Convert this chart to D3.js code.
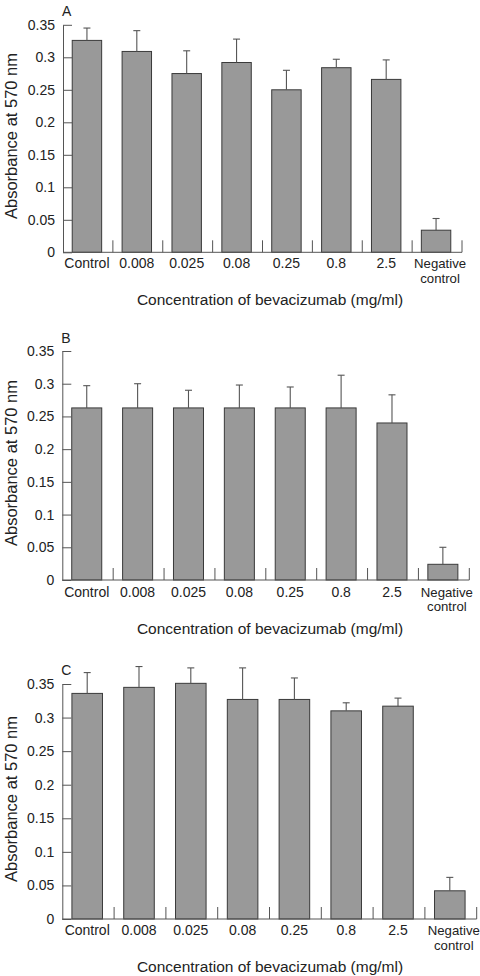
<!DOCTYPE html>
<html><head><meta charset="utf-8">
<script src="https://cdn.jsdelivr.net/npm/d3@7"></script>
<style>body{margin:0;background:#fff}svg{display:block}text{font-family:"Liberation Sans",Arial,sans-serif;fill:#222}</style>
</head><body>
<script>
const categories = ["Control","0.008","0.025","0.08","0.25","0.8","2.5","Negative control"];
const yTickValues = [0,0.05,0.1,0.15,0.2,0.25,0.3,0.35];
const yTickLabels = ["0","0.05","0.1","0.15","0.2","0.25","0.3","0.35"];
const panelLetters = ["A","B","C"];
const meansA = [0.326,0.309,0.275,0.292,0.250,0.284,0.266,0.034];
const sdA    = [0.019,0.032,0.035,0.036,0.030,0.013,0.030,0.018];
const meansB = [0.263,0.263,0.263,0.263,0.263,0.263,0.240,0.024];
const sdB    = [0.034,0.037,0.027,0.035,0.032,0.050,0.043,0.026];
const meansC = [0.336,0.345,0.351,0.327,0.327,0.310,0.317,0.042];
const sdC    = [0.031,0.031,0.023,0.047,0.032,0.012,0.012,0.020];
const yLabel = "Absorbance at 570 nm";
const xLabel = "Concentration of bevacizumab (mg/ml)";

const W = 480, H = 976;
const svg = d3.select("body").append("svg").attr("width",W).attr("height",H);

const layouts = [
  {x0:63, x1:462, yZero:252.3, yTop:24.8, letterY:16, lab1:268, lab2:282.5, titleY:305, ylabC:136},
  {x0:62.3, x1:469.3, yZero:580, yTop:351, letterY:343, lab1:596.7, lab2:611.2, titleY:634, ylabC:463},
  {x0:62.3, x1:476.7, yZero:919, yTop:684, letterY:675, lab1:935.2, lab2:949.7, titleY:971.7, ylabC:799}
];
const series = [[meansA,sdA],[meansB,sdB],[meansC,sdC]];

layouts.forEach((L,pi)=>{
  const [means,sds] = series[pi];
  const data = categories.map((c,i)=>({c, m:means[i], s:sds[i]}));
  const g = svg.append("g");
  const x = d3.scaleBand().domain(categories).range([L.x0,L.x1]).paddingInner(0).paddingOuter(0);
  const y = d3.scaleLinear().domain([0,0.35]).range([L.yZero,L.yTop]);
  const bw = x.bandwidth();
  const barW = bw*0.59;

  // bars
  g.selectAll("rect.bar").data(data).join("rect")
    .attr("x",d=>x(d.c)+bw/2-barW/2 - 1)
    .attr("y",d=>y(d.m))
    .attr("width",barW)
    .attr("height",d=>y(0)-y(d.m))
    .attr("fill","#999999").attr("stroke","#3a3a3a").attr("stroke-width",1);

  // error bars
  g.selectAll("line.err").data(data).join("line")
    .attr("x1",d=>x(d.c)+bw/2-1).attr("x2",d=>x(d.c)+bw/2-1)
    .attr("y1",d=>y(d.m)).attr("y2",d=>y(d.m+d.s))
    .attr("stroke","#555").attr("stroke-width",1.1);
  g.selectAll("line.cap").data(data).join("line")
    .attr("x1",d=>x(d.c)+bw/2-1-3.5).attr("x2",d=>x(d.c)+bw/2-1+3.5)
    .attr("y1",d=>y(d.m+d.s)).attr("y2",d=>y(d.m+d.s))
    .attr("stroke","#555").attr("stroke-width",1.1);

  // y axis
  const yAxis = d3.axisLeft(y).tickValues(yTickValues)
    .tickFormat((d,i)=>yTickLabels[i]).tickSizeInner(-9).tickSizeOuter(0).tickPadding(8);
  const ya = g.append("g").attr("transform",`translate(${L.x0},0)`).call(yAxis);
  ya.select(".domain").attr("stroke","#555");
  ya.selectAll(".tick line").attr("stroke","#555");
  ya.selectAll(".tick text").attr("font-size",14).attr("fill","#222")
    .attr("font-family","Liberation Sans, Arial, sans-serif");

  // x axis line
  g.append("line").attr("x1",L.x0).attr("x2",L.x1).attr("y1",y(0)).attr("y2",y(0))
    .attr("stroke","#555").attr("stroke-width",1);
  // separator ticks at band boundaries
  g.selectAll("line.sep").data(categories).join("line")
    .attr("x1",d=>x(d)+bw).attr("x2",d=>x(d)+bw)
    .attr("y1",y(0)).attr("y2",y(0)-12)
    .attr("stroke","#555").attr("stroke-width",1);

  // category labels
  g.selectAll("text.cat").data(categories).join("text")
    .attr("text-anchor","middle")
    .each(function(d){
      const t = d3.select(this);
      const parts = d.split(" ");
      const cx = x(d)+bw/2 + (parts.length>1 ? 3 : -1);
      if(parts.length===1){
        t.attr("font-size",14);
        t.append("tspan").attr("x",cx).attr("y",L.lab1).text(d);
      } else {
        t.attr("font-size",13.2);
        t.append("tspan").attr("x",cx).attr("y",L.lab1).text(parts[0]);
        t.append("tspan").attr("x",cx).attr("y",L.lab2).text(parts[1]);
      }
    });

  // panel letter
  g.append("text").attr("x",L.x0-1).attr("y",L.letterY).attr("font-size",14).text(panelLetters[pi]);

  // axis titles
  g.append("text").attr("text-anchor","middle").attr("font-size",16.5)
    .attr("transform",`translate(16.5,${L.ylabC}) rotate(-90)`).text(yLabel);
  g.append("text").attr("text-anchor","middle").attr("font-size",15.5)
    .attr("x",270).attr("y",L.titleY).text(xLabel);
});
</script>
</body></html>
